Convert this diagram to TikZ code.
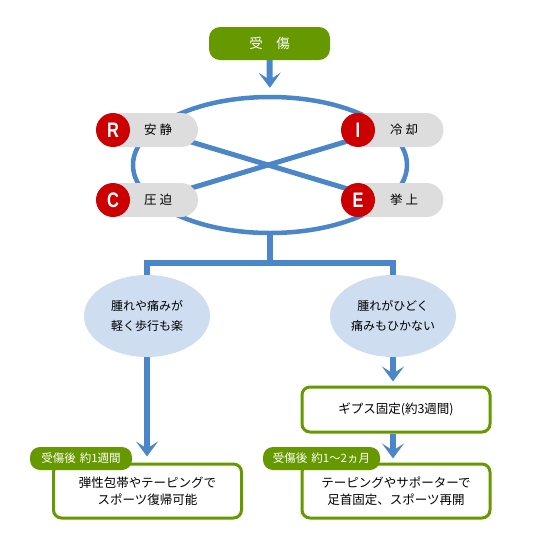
\documentclass[tikz,border=0pt]{standalone}
\usepackage{fontspec}
\setmainfont{Noto Sans CJK JP}
\newfontfamily\latinb{Liberation Sans}
\usetikzlibrary{arrows.meta,shapes.geometric,backgrounds,calc}
\definecolor{ablue}{HTML}{4A86C8}
\definecolor{agreen}{HTML}{669900}
\definecolor{ared}{HTML}{CC0000}
\definecolor{agray}{HTML}{DDDDDD}
\definecolor{abubble}{HTML}{CEDDF0}
\newcommand{\rletter}[1]{\scalebox{0.78}[1]{#1}}
\begin{document}
\begin{tikzpicture}[x=1pt,y=-1pt,
  bluearrow/.style={draw=ablue,line width=6pt,-{Stealth[length=15pt,width=22pt,inset=7pt]}},
  blueline/.style={draw=ablue,line width=5pt},
  greenpill/.style={fill=agreen,rounded corners=11pt,inner sep=0pt,text=white},
  graypill/.style={fill=agray,rounded corners=17pt,minimum width=93pt,minimum height=34pt,inner sep=0pt},
  redball/.style={circle,fill=ared,minimum size=34pt,inner sep=0pt,text=white,font=\latinb\bfseries\fontsize{21}{21}\selectfont},
  pilltext/.style={font=\fontsize{12.5}{14}\selectfont,inner sep=0pt},
  bubble/.style={ellipse,fill=abubble,minimum width=126pt,minimum height=82pt,inner sep=0pt,align=center,font=\fontsize{12}{20}\selectfont},
  gbox/.style={draw=agreen,line width=3pt,fill=white,rounded corners=8pt,minimum width=188pt,inner sep=0pt,align=center,font=\fontsize{12.5}{17}\selectfont},
  tag/.style={fill=agreen,rounded corners=10pt,minimum height=23pt,inner sep=0pt,text=white,font=\fontsize{11.5}{13}\selectfont}
]
\useasboundingbox (0,0) rectangle (540,550);
% top
\node[greenpill,minimum width=121pt,minimum height=33pt,font=\fontsize{13.5}{15}\selectfont] (top) at (269.5,43.5) {受　傷};
% cycle
\node[ellipse,draw=ablue,line width=4.5pt,minimum width=274pt,minimum height=136pt,inner sep=0pt] (cycle) at (270,165) {};
% pills
\node[graypill] (Rpill) at (151.5,130) {};
\node[graypill] (Cpill) at (151.5,200) {};
\node[graypill] (Ipill) at (397,130) {};
\node[graypill] (Epill) at (397,200) {};
\node[redball] (Rb) at (113,130) {\rletter{R}};
\node[redball] (Cb) at (113,200) {\rletter{C}};
\node[redball] (Ib) at (358,130) {\rletter{I}};
\node[redball] (Eb) at (358,200) {\rletter{E}};
\node[pilltext] (Rt) at (158,130) {安\hspace{3pt}静};
\node[pilltext] (Ct) at (158,200) {圧\hspace{3pt}迫};
\node[pilltext] (It) at (404,130) {冷\hspace{3pt}却};
\node[pilltext] (Et) at (404,200) {挙\hspace{3pt}上};
\begin{pgfonlayer}{background}
  \draw[blueline] (Rpill.center) -- ($(Eb.center)+(0,-8)$);
  \draw[blueline] (Cpill.center) -- ($(Ib.center)+(0,8)$);
\end{pgfonlayer}
\draw[bluearrow,shorten >=7pt] (top.south) -- (cycle.north);
% bubbles
\node[bubble] (lb) at (147,316) {腫れや痛みが\\軽く歩行も楽};
\node[bubble] (rb) at (393,316) {腫れがひどく\\痛みもひかない};
\coordinate (split) at (270,263);
\draw[blueline,line width=6pt] (cycle.south) -- (split);
\draw[blueline,line width=6pt] ($(split)+(3,0)$) -| (lb.north);
\draw[blueline,line width=6pt] ($(split)+(-3,0)$) -| (rb.north);
% boxes
\node[gbox,minimum height=54pt] (lbox) at (147.5,491) {弾性包帯やテーピングで\\スポーツ復帰可能};
\node[gbox,minimum height=45pt,font=\fontsize{12.5}{14}\selectfont] (cast) at (396,409.5) {ギプス固定(約3週間)};
\node[gbox,minimum height=54pt] (rbox) at (396,491) {テーピングやサポーターで\\足首固定、スポーツ再開};
\node[tag,minimum width=102pt] (ltag) at (81,458.5) {受傷後\hspace{4pt}約1週間};
\node[tag,minimum width=117pt] (rtag) at (321.5,458.5) {受傷後\hspace{4pt}約1～2ヵ月};
\draw[bluearrow,shorten >=6pt] (lb.south) -- (lb.south |- lbox.north);
\draw[bluearrow,shorten >=4pt] (rb.south) -- (rb.south |- cast.north);
\draw[bluearrow,shorten >=4pt] (rb.south |- cast.south) -- (rb.south |- rbox.north);
\end{tikzpicture}
\end{document}
